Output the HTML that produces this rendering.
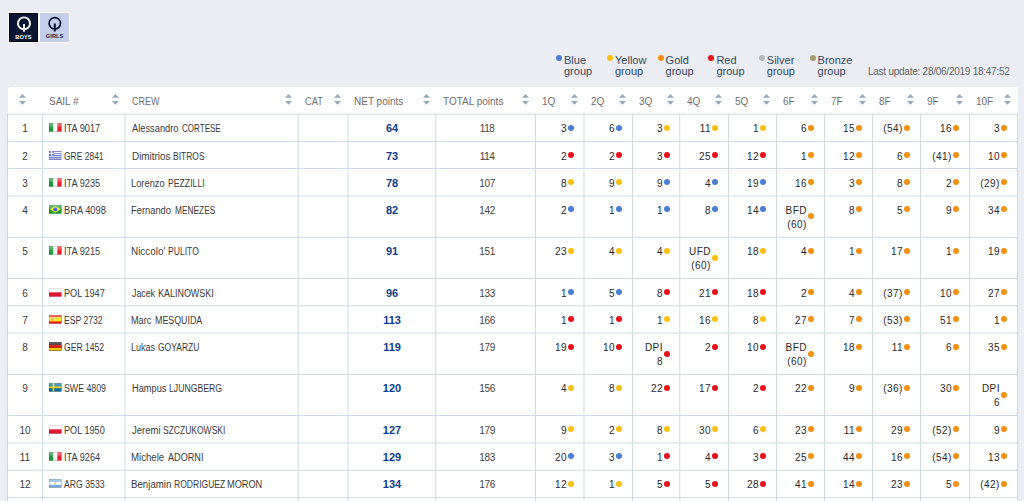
<!DOCTYPE html><html><head><meta charset="utf-8"><title>Results</title><style>
*{margin:0;padding:0;box-sizing:border-box}
html,body{width:1024px;height:501px;overflow:hidden;background:#ebedf2;font-family:"Liberation Sans",sans-serif}
.abs{position:absolute}
#logos{position:absolute;left:8px;top:11.5px;width:62px;height:31.5px;background:#fff}
.lg{position:absolute;top:1px;width:29.5px;height:30px}
.lg svg{position:absolute;left:0;top:0}
.lgt{position:absolute;left:0;width:100%;top:21.5px;text-align:center;font-weight:bold;font-size:5.6px;letter-spacing:0.1px}
.leg{position:absolute;top:54.6px;font-size:11px;line-height:11px;color:#34495e}
.leg i{position:absolute;left:-8px;top:0.2px;width:6px;height:6px;border-radius:50%}
#upd{position:absolute;left:868px;top:65.5px;font-size:10px;color:#666;white-space:nowrap;letter-spacing:-0.25px}
#tbl{position:absolute;left:8px;top:87px;width:1010px;height:420px;background:#fff;border-radius:2.5px 2.5px 0 0}
.hl{position:absolute;height:1px;background:#cfdbe4}
.vl{position:absolute;width:1px;background:#d6e0e8}
.th{position:absolute;top:95.8px;font-size:10px;color:#6e6e6e;white-space:nowrap}
.si{position:absolute;top:94px;width:7px;height:11px}
.c{position:absolute;font-size:10px;line-height:14.2px;white-space:nowrap}
.rk{color:#3a3a3a;text-align:center}
.sl{color:#3a3a3a}
.sl svg{vertical-align:-0.3px;margin-right:2.1px}
.cr{color:#3a3a3a}
.s{display:inline-block;transform-origin:0 50%}
.nt{color:#0f3c8a;font-weight:bold;font-size:11px;text-align:center}
.tt{color:#444;text-align:center;letter-spacing:-0.4px;padding-left:2.2px}
.rc{text-align:right;color:#282828;letter-spacing:0.45px;padding-right:7.1px}
.rc i{position:absolute;right:0;width:6px;height:6px;border-radius:50%}
</style></head><body>
<div id="logos">
<div class="lg" style="left:1px;top:1.3px;width:29px;height:29px;background:#0b1634;box-shadow:inset 0 0 0 0.8px #000"><svg width="29" height="29" viewBox="0 0 29 29"><circle cx="15" cy="10.4" r="6" fill="none" stroke="#fff" stroke-width="1.9"/><rect x="14.1" y="11" width="1.8" height="7.8" fill="#fff"/></svg><div class="lgt" style="color:#fff;top:21.1px">BOYS</div></div>
<div class="lg" style="left:32px;top:1px;width:29.2px;height:29.6px;background:#c3cee8"><svg width="29" height="29" viewBox="0 0 29 29"><circle cx="14.8" cy="10.3" r="5.7" fill="none" stroke="#0a1230" stroke-width="1.7"/><rect x="13.8" y="10.5" width="2" height="8" fill="#0a1230"/></svg><div class="lgt" style="color:#1a2340;top:20.4px">GIRLS</div></div>
</div>
<div class="leg" style="left:564px"><i style="background:#4a7fd4"></i>Blue<br>group</div>
<div class="leg" style="left:615px"><i style="background:#fcc010"></i>Yellow<br>group</div>
<div class="leg" style="left:665.6px"><i style="background:#f5900f"></i>Gold<br>group</div>
<div class="leg" style="left:716.4px"><i style="background:#e8101a"></i>Red<br>group</div>
<div class="leg" style="left:766.8px"><i style="background:#b8b8b8"></i>Silver<br>group</div>
<div class="leg" style="left:817.6px"><i style="background:#a99a6c"></i>Bronze<br>group</div>
<div id="upd">Last update: 28/06/2019 18:47:52</div>
<div id="tbl"></div>
<svg width="0" height="0" style="position:absolute"><defs><linearGradient id="gl" x1="0" y1="0" x2="0" y2="1"><stop offset="0" stop-color="#fff" stop-opacity="0.45"/><stop offset="0.5" stop-color="#fff" stop-opacity="0.12"/><stop offset="0.55" stop-color="#fff" stop-opacity="0"/><stop offset="1" stop-color="#000" stop-opacity="0.08"/></linearGradient></defs></svg>
<svg class="si" style="left:18.7px" width="7" height="11" viewBox="0 0 7 11"><polygon points="3.5,0 7,3.8 0,3.8" fill="#94a8bc"/><polygon points="0,7 7,7 3.5,10.8" fill="#94a8bc"/></svg>
<div class="th" style="left:49px"><span class="s" style="transform:scaleX(1)">SAIL #</span></div>
<svg class="si" style="left:111.5px" width="7" height="11" viewBox="0 0 7 11"><polygon points="3.5,0 7,3.8 0,3.8" fill="#94a8bc"/><polygon points="0,7 7,7 3.5,10.8" fill="#94a8bc"/></svg>
<div class="th" style="left:132px"><span class="s" style="transform:scaleX(0.9)">CREW</span></div>
<svg class="si" style="left:284.5px" width="7" height="11" viewBox="0 0 7 11"><polygon points="3.5,0 7,3.8 0,3.8" fill="#94a8bc"/><polygon points="0,7 7,7 3.5,10.8" fill="#94a8bc"/></svg>
<div class="th" style="left:305px"><span class="s" style="transform:scaleX(0.925)">CAT</span></div>
<svg class="si" style="left:333.5px" width="7" height="11" viewBox="0 0 7 11"><polygon points="3.5,0 7,3.8 0,3.8" fill="#94a8bc"/><polygon points="0,7 7,7 3.5,10.8" fill="#94a8bc"/></svg>
<div class="th" style="left:354px"><span class="s" style="transform:scaleX(1)">NET points</span></div>
<svg class="si" style="left:422.5px" width="7" height="11" viewBox="0 0 7 11"><polygon points="3.5,0 7,3.8 0,3.8" fill="#94a8bc"/><polygon points="0,7 7,7 3.5,10.8" fill="#94a8bc"/></svg>
<div class="th" style="left:443px"><span class="s" style="transform:scaleX(1)">TOTAL points</span></div>
<svg class="si" style="left:521.5px" width="7" height="11" viewBox="0 0 7 11"><polygon points="3.5,0 7,3.8 0,3.8" fill="#94a8bc"/><polygon points="0,7 7,7 3.5,10.8" fill="#94a8bc"/></svg>
<div class="th" style="left:542px"><span class="s" style="transform:scaleX(1)">1Q</span></div>
<svg class="si" style="left:570.5px" width="7" height="11" viewBox="0 0 7 11"><polygon points="3.5,0 7,3.8 0,3.8" fill="#94a8bc"/><polygon points="0,7 7,7 3.5,10.8" fill="#94a8bc"/></svg>
<div class="th" style="left:591px"><span class="s" style="transform:scaleX(1)">2Q</span></div>
<svg class="si" style="left:618.5px" width="7" height="11" viewBox="0 0 7 11"><polygon points="3.5,0 7,3.8 0,3.8" fill="#94a8bc"/><polygon points="0,7 7,7 3.5,10.8" fill="#94a8bc"/></svg>
<div class="th" style="left:639px"><span class="s" style="transform:scaleX(1)">3Q</span></div>
<svg class="si" style="left:666.5px" width="7" height="11" viewBox="0 0 7 11"><polygon points="3.5,0 7,3.8 0,3.8" fill="#94a8bc"/><polygon points="0,7 7,7 3.5,10.8" fill="#94a8bc"/></svg>
<div class="th" style="left:687px"><span class="s" style="transform:scaleX(1)">4Q</span></div>
<svg class="si" style="left:714.5px" width="7" height="11" viewBox="0 0 7 11"><polygon points="3.5,0 7,3.8 0,3.8" fill="#94a8bc"/><polygon points="0,7 7,7 3.5,10.8" fill="#94a8bc"/></svg>
<div class="th" style="left:735px"><span class="s" style="transform:scaleX(1)">5Q</span></div>
<svg class="si" style="left:762.5px" width="7" height="11" viewBox="0 0 7 11"><polygon points="3.5,0 7,3.8 0,3.8" fill="#94a8bc"/><polygon points="0,7 7,7 3.5,10.8" fill="#94a8bc"/></svg>
<div class="th" style="left:783px"><span class="s" style="transform:scaleX(1)">6F</span></div>
<svg class="si" style="left:810.5px" width="7" height="11" viewBox="0 0 7 11"><polygon points="3.5,0 7,3.8 0,3.8" fill="#94a8bc"/><polygon points="0,7 7,7 3.5,10.8" fill="#94a8bc"/></svg>
<div class="th" style="left:831px"><span class="s" style="transform:scaleX(1)">7F</span></div>
<svg class="si" style="left:858.5px" width="7" height="11" viewBox="0 0 7 11"><polygon points="3.5,0 7,3.8 0,3.8" fill="#94a8bc"/><polygon points="0,7 7,7 3.5,10.8" fill="#94a8bc"/></svg>
<div class="th" style="left:879px"><span class="s" style="transform:scaleX(1)">8F</span></div>
<svg class="si" style="left:906.5px" width="7" height="11" viewBox="0 0 7 11"><polygon points="3.5,0 7,3.8 0,3.8" fill="#94a8bc"/><polygon points="0,7 7,7 3.5,10.8" fill="#94a8bc"/></svg>
<div class="th" style="left:927px"><span class="s" style="transform:scaleX(1)">9F</span></div>
<svg class="si" style="left:955.5px" width="7" height="11" viewBox="0 0 7 11"><polygon points="3.5,0 7,3.8 0,3.8" fill="#94a8bc"/><polygon points="0,7 7,7 3.5,10.8" fill="#94a8bc"/></svg>
<div class="th" style="left:976px"><span class="s" style="transform:scaleX(1)">10F</span></div>
<svg class="si" style="left:1003.5px" width="7" height="11" viewBox="0 0 7 11"><polygon points="3.5,0 7,3.8 0,3.8" fill="#94a8bc"/><polygon points="0,7 7,7 3.5,10.8" fill="#94a8bc"/></svg>
<div class="hl" style="left:7px;width:1011px;top:113px;background:rgb(195,210,221);opacity:0.30"></div>
<div class="hl" style="left:7px;width:1011px;top:114px;background:rgb(195,210,221);opacity:0.50"></div>
<div class="hl" style="left:7px;width:1011px;top:141px;background:rgb(195,210,221);opacity:0.80"></div>
<div class="hl" style="left:7px;width:1011px;top:168px;background:rgb(195,210,221);opacity:0.80"></div>
<div class="hl" style="left:7px;width:1011px;top:195px;background:rgb(195,210,221);opacity:0.40"></div>
<div class="hl" style="left:7px;width:1011px;top:196px;background:rgb(195,210,221);opacity:0.40"></div>
<div class="hl" style="left:7px;width:1011px;top:236px;background:rgb(195,210,221);opacity:0.10"></div>
<div class="hl" style="left:7px;width:1011px;top:237px;background:rgb(195,210,221);opacity:0.70"></div>
<div class="hl" style="left:7px;width:1011px;top:278px;background:rgb(195,210,221);opacity:0.80"></div>
<div class="hl" style="left:7px;width:1011px;top:305px;background:rgb(195,210,221);opacity:0.50"></div>
<div class="hl" style="left:7px;width:1011px;top:306px;background:rgb(195,210,221);opacity:0.30"></div>
<div class="hl" style="left:7px;width:1011px;top:332px;background:rgb(195,210,221);opacity:0.40"></div>
<div class="hl" style="left:7px;width:1011px;top:333px;background:rgb(195,210,221);opacity:0.40"></div>
<div class="hl" style="left:7px;width:1011px;top:374px;background:rgb(195,210,221);opacity:0.80"></div>
<div class="hl" style="left:7px;width:1011px;top:415px;background:rgb(195,210,221);opacity:0.80"></div>
<div class="hl" style="left:7px;width:1011px;top:442px;background:rgb(195,210,221);opacity:0.40"></div>
<div class="hl" style="left:7px;width:1011px;top:443px;background:rgb(195,210,221);opacity:0.40"></div>
<div class="hl" style="left:7px;width:1011px;top:469px;background:rgb(195,210,221);opacity:0.20"></div>
<div class="hl" style="left:7px;width:1011px;top:470px;background:rgb(195,210,221);opacity:0.60"></div>
<div class="hl" style="left:7px;width:1011px;top:497px;background:rgb(195,210,221);opacity:0.80"></div>
<div class="vl" style="left:7px;top:114px;height:400px;background:rgb(195,210,221);opacity:0.80"></div>
<div class="vl" style="left:42px;top:114px;height:400px;background:rgb(195,210,221);opacity:0.80"></div>
<div class="vl" style="left:124px;top:114px;height:400px;background:rgb(195,210,221);opacity:0.40"></div>
<div class="vl" style="left:125px;top:114px;height:400px;background:rgb(195,210,221);opacity:0.40"></div>
<div class="vl" style="left:297px;top:114px;height:400px;background:rgb(195,210,221);opacity:0.30"></div>
<div class="vl" style="left:298px;top:114px;height:400px;background:rgb(195,210,221);opacity:0.50"></div>
<div class="vl" style="left:347px;top:114px;height:400px;background:rgb(195,210,221);opacity:0.40"></div>
<div class="vl" style="left:348px;top:114px;height:400px;background:rgb(195,210,221);opacity:0.40"></div>
<div class="vl" style="left:435px;top:114px;height:400px;background:rgb(195,210,221);opacity:0.50"></div>
<div class="vl" style="left:436px;top:114px;height:400px;background:rgb(195,210,221);opacity:0.30"></div>
<div class="vl" style="left:535px;top:114px;height:400px;background:rgb(195,210,221);opacity:0.80"></div>
<div class="vl" style="left:583px;top:114px;height:400px;background:rgb(195,210,221);opacity:0.40"></div>
<div class="vl" style="left:584px;top:114px;height:400px;background:rgb(195,210,221);opacity:0.40"></div>
<div class="vl" style="left:632px;top:114px;height:400px;background:rgb(195,210,221);opacity:0.80"></div>
<div class="vl" style="left:679px;top:114px;height:400px;background:rgb(195,210,221);opacity:0.60"></div>
<div class="vl" style="left:680px;top:114px;height:400px;background:rgb(195,210,221);opacity:0.20"></div>
<div class="vl" style="left:728px;top:114px;height:400px;background:rgb(195,210,221);opacity:0.80"></div>
<div class="vl" style="left:776px;top:114px;height:400px;background:rgb(195,210,221);opacity:0.80"></div>
<div class="vl" style="left:824px;top:114px;height:400px;background:rgb(195,210,221);opacity:0.80"></div>
<div class="vl" style="left:872px;top:114px;height:400px;background:rgb(195,210,221);opacity:0.80"></div>
<div class="vl" style="left:920px;top:114px;height:400px;background:rgb(195,210,221);opacity:0.80"></div>
<div class="vl" style="left:969px;top:114px;height:400px;background:rgb(195,210,221);opacity:0.70"></div>
<div class="vl" style="left:970px;top:114px;height:400px;background:rgb(195,210,221);opacity:0.10"></div>
<div class="vl" style="left:1017px;top:114px;height:400px;background:rgb(195,210,221);opacity:0.80"></div>
<div class="c rk" style="left:8px;width:34px;top:121.685px">1</div>
<div class="c sl" style="left:49px;top:121.685px"><svg width="12.5" height="8.6" viewBox="0 0 12 8" preserveAspectRatio="none"><rect width="12" height="8" fill="#fff"/><rect width="4" height="8" fill="#1a9a3a"/><rect x="8" width="4" height="8" fill="#ee1c25"/><rect width="12" height="8" fill="url(#gl)"/><rect x="0.25" y="0.25" width="11.5" height="7.5" fill="none" stroke="rgba(0,0,0,0.22)" stroke-width="0.5"/></svg><span class="s" style="transform:scaleX(0.92)">ITA 9017</span></div>
<div class="c cr" style="left:131.90px;top:121.685px"><span class="s" style="transform:scaleX(0.9293)">Alessandro</span></div>
<div class="c cr" style="left:181.90px;top:121.685px"><span class="s" style="transform:scaleX(0.8042)">CORTESE</span></div>
<div class="c nt" style="left:348px;width:88px;top:121.338px">64</div>
<div class="c tt" style="left:437px;width:98px;top:121.685px">118</div>
<div class="c rc" style="left:535px;width:39px;top:121.685px">3<i style="background:#4a7fd4;top:2.91px"></i></div>
<div class="c rc" style="left:584px;width:38px;top:121.685px">6<i style="background:#4a7fd4;top:2.91px"></i></div>
<div class="c rc" style="left:632px;width:38px;top:121.685px">3<i style="background:#fcc010;top:2.91px"></i></div>
<div class="c rc" style="left:680px;width:38px;top:121.685px">11<i style="background:#fcc010;top:2.91px"></i></div>
<div class="c rc" style="left:728px;width:38px;top:121.685px">1<i style="background:#fcc010;top:2.91px"></i></div>
<div class="c rc" style="left:776px;width:38px;top:121.685px">6<i style="background:#f5900f;top:2.91px"></i></div>
<div class="c rc" style="left:824px;width:38px;top:121.685px">15<i style="background:#f5900f;top:2.91px"></i></div>
<div class="c rc" style="left:872px;width:38px;top:121.685px">(54)<i style="background:#f5900f;top:2.91px"></i></div>
<div class="c rc" style="left:920px;width:39px;top:121.685px">16<i style="background:#f5900f;top:2.91px"></i></div>
<div class="c rc" style="left:969px;width:38px;top:121.685px">3<i style="background:#f5900f;top:2.91px"></i></div>
<div class="c rk" style="left:8px;width:34px;top:149.685px">2</div>
<div class="c sl" style="left:49px;top:149.685px"><svg width="12.5" height="8.6" viewBox="0 0 12 8" preserveAspectRatio="none"><rect width="12" height="8" fill="#fff"/><rect y="0" width="12" height="0.9" fill="#4d5fc8"/><rect y="1.8" width="12" height="0.9" fill="#4d5fc8"/><rect y="3.6" width="12" height="0.9" fill="#4d5fc8"/><rect y="5.4" width="12" height="0.9" fill="#4d5fc8"/><rect y="7.1" width="12" height="0.9" fill="#4d5fc8"/><rect width="5" height="4.4" fill="#4d5fc8"/><rect x="2" width="1" height="4.4" fill="#fff"/><rect y="1.8" width="5" height="0.9" fill="#fff"/><rect width="12" height="8" fill="url(#gl)"/><rect x="0.25" y="0.25" width="11.5" height="7.5" fill="none" stroke="rgba(0,0,0,0.22)" stroke-width="0.5"/></svg><span class="s" style="transform:scaleX(0.847)">GRE 2841</span></div>
<div class="c cr" style="left:131.66px;top:149.685px"><span class="s" style="transform:scaleX(0.9907)">Dimitrios</span></div>
<div class="c cr" style="left:172.86px;top:149.685px"><span class="s" style="transform:scaleX(0.8472)">BITROS</span></div>
<div class="c nt" style="left:348px;width:88px;top:149.339px">73</div>
<div class="c tt" style="left:437px;width:98px;top:149.685px">114</div>
<div class="c rc" style="left:535px;width:39px;top:149.685px">2<i style="background:#e8101a;top:2.22px"></i></div>
<div class="c rc" style="left:584px;width:38px;top:149.685px">2<i style="background:#e8101a;top:2.22px"></i></div>
<div class="c rc" style="left:632px;width:38px;top:149.685px">3<i style="background:#e8101a;top:2.22px"></i></div>
<div class="c rc" style="left:680px;width:38px;top:149.685px">25<i style="background:#e8101a;top:2.22px"></i></div>
<div class="c rc" style="left:728px;width:38px;top:149.685px">12<i style="background:#e8101a;top:2.22px"></i></div>
<div class="c rc" style="left:776px;width:38px;top:149.685px">1<i style="background:#f5900f;top:2.22px"></i></div>
<div class="c rc" style="left:824px;width:38px;top:149.685px">12<i style="background:#f5900f;top:2.22px"></i></div>
<div class="c rc" style="left:872px;width:38px;top:149.685px">6<i style="background:#f5900f;top:2.22px"></i></div>
<div class="c rc" style="left:920px;width:39px;top:149.685px">(41)<i style="background:#f5900f;top:2.22px"></i></div>
<div class="c rc" style="left:969px;width:38px;top:149.685px">10<i style="background:#f5900f;top:2.22px"></i></div>
<div class="c rk" style="left:8px;width:34px;top:176.685px">3</div>
<div class="c sl" style="left:49px;top:176.685px"><svg width="12.5" height="8.6" viewBox="0 0 12 8" preserveAspectRatio="none"><rect width="12" height="8" fill="#fff"/><rect width="4" height="8" fill="#1a9a3a"/><rect x="8" width="4" height="8" fill="#ee1c25"/><rect width="12" height="8" fill="url(#gl)"/><rect x="0.25" y="0.25" width="11.5" height="7.5" fill="none" stroke="rgba(0,0,0,0.22)" stroke-width="0.5"/></svg><span class="s" style="transform:scaleX(0.92)">ITA 9235</span></div>
<div class="c cr" style="left:131.40px;top:176.685px"><span class="s" style="transform:scaleX(0.9314)">Lorenzo</span></div>
<div class="c cr" style="left:168.45px;top:176.685px"><span class="s" style="transform:scaleX(0.8667)">PEZZILLI</span></div>
<div class="c nt" style="left:348px;width:88px;top:176.339px">78</div>
<div class="c tt" style="left:437px;width:98px;top:176.685px">107</div>
<div class="c rc" style="left:535px;width:39px;top:176.685px">8<i style="background:#fcc010;top:2.41px"></i></div>
<div class="c rc" style="left:584px;width:38px;top:176.685px">9<i style="background:#fcc010;top:2.41px"></i></div>
<div class="c rc" style="left:632px;width:38px;top:176.685px">9<i style="background:#4a7fd4;top:2.41px"></i></div>
<div class="c rc" style="left:680px;width:38px;top:176.685px">4<i style="background:#4a7fd4;top:2.41px"></i></div>
<div class="c rc" style="left:728px;width:38px;top:176.685px">19<i style="background:#4a7fd4;top:2.41px"></i></div>
<div class="c rc" style="left:776px;width:38px;top:176.685px">16<i style="background:#f5900f;top:2.41px"></i></div>
<div class="c rc" style="left:824px;width:38px;top:176.685px">3<i style="background:#f5900f;top:2.41px"></i></div>
<div class="c rc" style="left:872px;width:38px;top:176.685px">8<i style="background:#f5900f;top:2.41px"></i></div>
<div class="c rc" style="left:920px;width:39px;top:176.685px">2<i style="background:#f5900f;top:2.41px"></i></div>
<div class="c rc" style="left:969px;width:38px;top:176.685px">(29)<i style="background:#f5900f;top:2.41px"></i></div>
<div class="c rk" style="left:8px;width:34px;top:203.685px">4</div>
<div class="c sl" style="left:49px;top:203.685px"><svg width="12.5" height="8.6" viewBox="0 0 12 8" preserveAspectRatio="none"><rect width="12" height="8" fill="#1a9a2a"/><polygon points="6,0.9 11.2,4 6,7.1 0.8,4" fill="#f4f010"/><circle cx="6" cy="4" r="1.9" fill="#2a50e0"/><rect width="12" height="8" fill="url(#gl)"/><rect x="0.25" y="0.25" width="11.5" height="7.5" fill="none" stroke="rgba(0,0,0,0.22)" stroke-width="0.5"/></svg><span class="s" style="transform:scaleX(0.93)">BRA 4098</span></div>
<div class="c cr" style="left:131.40px;top:203.685px"><span class="s" style="transform:scaleX(0.9341)">Fernando</span></div>
<div class="c cr" style="left:174.87px;top:203.685px"><span class="s" style="transform:scaleX(0.8339)">MENEZES</span></div>
<div class="c nt" style="left:348px;width:88px;top:203.339px">82</div>
<div class="c tt" style="left:437px;width:98px;top:203.685px">142</div>
<div class="c rc" style="left:535px;width:39px;top:203.685px">2<i style="background:#4a7fd4;top:2.81px"></i></div>
<div class="c rc" style="left:584px;width:38px;top:203.685px">1<i style="background:#4a7fd4;top:2.81px"></i></div>
<div class="c rc" style="left:632px;width:38px;top:203.685px">1<i style="background:#4a7fd4;top:2.81px"></i></div>
<div class="c rc" style="left:680px;width:38px;top:203.685px">8<i style="background:#4a7fd4;top:2.81px"></i></div>
<div class="c rc" style="left:728px;width:38px;top:203.685px">14<i style="background:#4a7fd4;top:2.81px"></i></div>
<div class="c rc" style="left:776px;width:38px;top:203.685px">BFD<br>(60)<i style="background:#f5900f;top:9.72px"></i></div>
<div class="c rc" style="left:824px;width:38px;top:203.685px">8<i style="background:#f5900f;top:2.81px"></i></div>
<div class="c rc" style="left:872px;width:38px;top:203.685px">5<i style="background:#f5900f;top:2.81px"></i></div>
<div class="c rc" style="left:920px;width:39px;top:203.685px">9<i style="background:#f5900f;top:2.81px"></i></div>
<div class="c rc" style="left:969px;width:38px;top:203.685px">34<i style="background:#f5900f;top:2.81px"></i></div>
<div class="c rk" style="left:8px;width:34px;top:244.685px">5</div>
<div class="c sl" style="left:49px;top:244.685px"><svg width="12.5" height="8.6" viewBox="0 0 12 8" preserveAspectRatio="none"><rect width="12" height="8" fill="#fff"/><rect width="4" height="8" fill="#1a9a3a"/><rect x="8" width="4" height="8" fill="#ee1c25"/><rect width="12" height="8" fill="url(#gl)"/><rect x="0.25" y="0.25" width="11.5" height="7.5" fill="none" stroke="rgba(0,0,0,0.22)" stroke-width="0.5"/></svg><span class="s" style="transform:scaleX(0.92)">ITA 9215</span></div>
<div class="c cr" style="left:131.36px;top:244.685px"><span class="s" style="transform:scaleX(0.9881)">Niccolo'</span></div>
<div class="c cr" style="left:167.86px;top:244.685px"><span class="s" style="transform:scaleX(0.8576)">PULITO</span></div>
<div class="c nt" style="left:348px;width:88px;top:244.339px">91</div>
<div class="c tt" style="left:437px;width:98px;top:244.685px">151</div>
<div class="c rc" style="left:535px;width:39px;top:244.685px">23<i style="background:#fcc010;top:3.11px"></i></div>
<div class="c rc" style="left:584px;width:38px;top:244.685px">4<i style="background:#fcc010;top:3.11px"></i></div>
<div class="c rc" style="left:632px;width:38px;top:244.685px">4<i style="background:#fcc010;top:3.11px"></i></div>
<div class="c rc" style="left:680px;width:38px;top:244.685px">UFD<br>(60)<i style="background:#fcc010;top:10.01px"></i></div>
<div class="c rc" style="left:728px;width:38px;top:244.685px">18<i style="background:#fcc010;top:3.11px"></i></div>
<div class="c rc" style="left:776px;width:38px;top:244.685px">4<i style="background:#f5900f;top:3.11px"></i></div>
<div class="c rc" style="left:824px;width:38px;top:244.685px">1<i style="background:#f5900f;top:3.11px"></i></div>
<div class="c rc" style="left:872px;width:38px;top:244.685px">17<i style="background:#f5900f;top:3.11px"></i></div>
<div class="c rc" style="left:920px;width:39px;top:244.685px">1<i style="background:#f5900f;top:3.11px"></i></div>
<div class="c rc" style="left:969px;width:38px;top:244.685px">19<i style="background:#f5900f;top:3.11px"></i></div>
<div class="c rk" style="left:8px;width:34px;top:286.685px">6</div>
<div class="c sl" style="left:49px;top:286.685px"><svg width="12.5" height="8.6" viewBox="0 0 12 8" preserveAspectRatio="none"><rect width="12" height="8" fill="#fff"/><rect y="4" width="12" height="4" fill="#e3142c"/><rect width="12" height="8" fill="url(#gl)"/><rect x="0.25" y="0.25" width="11.5" height="7.5" fill="none" stroke="rgba(0,0,0,0.22)" stroke-width="0.5"/></svg><span class="s" style="transform:scaleX(0.913)">POL 1947</span></div>
<div class="c cr" style="left:131.88px;top:286.685px"><span class="s" style="transform:scaleX(0.8816)">Jacek</span></div>
<div class="c cr" style="left:158.23px;top:286.685px"><span class="s" style="transform:scaleX(0.8959)">KALINOWSKI</span></div>
<div class="c nt" style="left:348px;width:88px;top:286.339px">96</div>
<div class="c tt" style="left:437px;width:98px;top:286.685px">133</div>
<div class="c rc" style="left:535px;width:39px;top:286.685px">1<i style="background:#4a7fd4;top:2.31px"></i></div>
<div class="c rc" style="left:584px;width:38px;top:286.685px">5<i style="background:#4a7fd4;top:2.31px"></i></div>
<div class="c rc" style="left:632px;width:38px;top:286.685px">8<i style="background:#e8101a;top:2.31px"></i></div>
<div class="c rc" style="left:680px;width:38px;top:286.685px">21<i style="background:#e8101a;top:2.31px"></i></div>
<div class="c rc" style="left:728px;width:38px;top:286.685px">18<i style="background:#e8101a;top:2.31px"></i></div>
<div class="c rc" style="left:776px;width:38px;top:286.685px">2<i style="background:#f5900f;top:2.31px"></i></div>
<div class="c rc" style="left:824px;width:38px;top:286.685px">4<i style="background:#f5900f;top:2.31px"></i></div>
<div class="c rc" style="left:872px;width:38px;top:286.685px">(37)<i style="background:#f5900f;top:2.31px"></i></div>
<div class="c rc" style="left:920px;width:39px;top:286.685px">10<i style="background:#f5900f;top:2.31px"></i></div>
<div class="c rc" style="left:969px;width:38px;top:286.685px">27<i style="background:#f5900f;top:2.31px"></i></div>
<div class="c rk" style="left:8px;width:34px;top:313.685px">7</div>
<div class="c sl" style="left:49px;top:313.685px"><svg width="12.5" height="8.6" viewBox="0 0 12 8" preserveAspectRatio="none"><rect width="12" height="8" fill="#ee1111"/><rect y="2" width="12" height="4" fill="#f8e81c"/><rect x="2.3" y="2.8" width="1.8" height="2.4" fill="#e89090"/><rect width="12" height="8" fill="url(#gl)"/><rect x="0.25" y="0.25" width="11.5" height="7.5" fill="none" stroke="rgba(0,0,0,0.22)" stroke-width="0.5"/></svg><span class="s" style="transform:scaleX(0.86)">ESP 2732</span></div>
<div class="c cr" style="left:131.42px;top:313.685px"><span class="s" style="transform:scaleX(0.9129)">Marc</span></div>
<div class="c cr" style="left:154.84px;top:313.685px"><span class="s" style="transform:scaleX(0.8857)">MESQUIDA</span></div>
<div class="c nt" style="left:348px;width:88px;top:313.339px">113</div>
<div class="c tt" style="left:437px;width:98px;top:313.685px">166</div>
<div class="c rc" style="left:535px;width:39px;top:313.685px">1<i style="background:#e8101a;top:2.52px"></i></div>
<div class="c rc" style="left:584px;width:38px;top:313.685px">1<i style="background:#e8101a;top:2.52px"></i></div>
<div class="c rc" style="left:632px;width:38px;top:313.685px">1<i style="background:#fcc010;top:2.52px"></i></div>
<div class="c rc" style="left:680px;width:38px;top:313.685px">16<i style="background:#fcc010;top:2.52px"></i></div>
<div class="c rc" style="left:728px;width:38px;top:313.685px">8<i style="background:#fcc010;top:2.52px"></i></div>
<div class="c rc" style="left:776px;width:38px;top:313.685px">27<i style="background:#f5900f;top:2.52px"></i></div>
<div class="c rc" style="left:824px;width:38px;top:313.685px">7<i style="background:#f5900f;top:2.52px"></i></div>
<div class="c rc" style="left:872px;width:38px;top:313.685px">(53)<i style="background:#f5900f;top:2.52px"></i></div>
<div class="c rc" style="left:920px;width:39px;top:313.685px">51<i style="background:#f5900f;top:2.52px"></i></div>
<div class="c rc" style="left:969px;width:38px;top:313.685px">1<i style="background:#f5900f;top:2.52px"></i></div>
<div class="c rk" style="left:8px;width:34px;top:340.685px">8</div>
<div class="c sl" style="left:49px;top:340.685px"><svg width="12.5" height="8.6" viewBox="0 0 12 8" preserveAspectRatio="none"><rect width="12" height="8" fill="#000"/><rect y="2.67" width="12" height="2.67" fill="#dd0000"/><rect y="5.33" width="12" height="2.67" fill="#ffce00"/><rect width="12" height="8" fill="url(#gl)"/><rect x="0.25" y="0.25" width="11.5" height="7.5" fill="none" stroke="rgba(0,0,0,0.22)" stroke-width="0.5"/></svg><span class="s" style="transform:scaleX(0.86)">GER 1452</span></div>
<div class="c cr" style="left:131.43px;top:340.685px"><span class="s" style="transform:scaleX(0.8941)">Lukas</span></div>
<div class="c cr" style="left:158.47px;top:340.685px"><span class="s" style="transform:scaleX(0.8505)">GOYARZU</span></div>
<div class="c nt" style="left:348px;width:88px;top:340.339px">119</div>
<div class="c tt" style="left:437px;width:98px;top:340.685px">179</div>
<div class="c rc" style="left:535px;width:39px;top:340.685px">19<i style="background:#e8101a;top:3.02px"></i></div>
<div class="c rc" style="left:584px;width:38px;top:340.685px">10<i style="background:#e8101a;top:3.02px"></i></div>
<div class="c rc" style="left:632px;width:38px;top:340.685px">DPI<br>8<i style="background:#e8101a;top:9.92px"></i></div>
<div class="c rc" style="left:680px;width:38px;top:340.685px">2<i style="background:#e8101a;top:3.02px"></i></div>
<div class="c rc" style="left:728px;width:38px;top:340.685px">10<i style="background:#e8101a;top:3.02px"></i></div>
<div class="c rc" style="left:776px;width:38px;top:340.685px">BFD<br>(60)<i style="background:#f5900f;top:9.92px"></i></div>
<div class="c rc" style="left:824px;width:38px;top:340.685px">18<i style="background:#f5900f;top:3.02px"></i></div>
<div class="c rc" style="left:872px;width:38px;top:340.685px">11<i style="background:#f5900f;top:3.02px"></i></div>
<div class="c rc" style="left:920px;width:39px;top:340.685px">6<i style="background:#f5900f;top:3.02px"></i></div>
<div class="c rc" style="left:969px;width:38px;top:340.685px">35<i style="background:#f5900f;top:3.02px"></i></div>
<div class="c rk" style="left:8px;width:34px;top:381.685px">9</div>
<div class="c sl" style="left:49px;top:381.685px"><svg width="12.5" height="8.6" viewBox="0 0 12 8" preserveAspectRatio="none"><rect width="12" height="8" fill="#006aa7"/><rect x="3.5" width="1.6" height="8" fill="#fecc00"/><rect y="3.2" width="12" height="1.6" fill="#fecc00"/><rect width="12" height="8" fill="url(#gl)"/><rect x="0.25" y="0.25" width="11.5" height="7.5" fill="none" stroke="rgba(0,0,0,0.22)" stroke-width="0.5"/></svg><span class="s" style="transform:scaleX(0.878)">SWE 4809</span></div>
<div class="c cr" style="left:131.51px;top:381.685px"><span class="s" style="transform:scaleX(0.9241)">Hampus</span></div>
<div class="c cr" style="left:168.65px;top:381.685px"><span class="s" style="transform:scaleX(0.8686)">LJUNGBERG</span></div>
<div class="c nt" style="left:348px;width:88px;top:381.339px">120</div>
<div class="c tt" style="left:437px;width:98px;top:381.685px">156</div>
<div class="c rc" style="left:535px;width:39px;top:381.685px">4<i style="background:#fcc010;top:3.02px"></i></div>
<div class="c rc" style="left:584px;width:38px;top:381.685px">8<i style="background:#fcc010;top:3.02px"></i></div>
<div class="c rc" style="left:632px;width:38px;top:381.685px">22<i style="background:#e8101a;top:3.02px"></i></div>
<div class="c rc" style="left:680px;width:38px;top:381.685px">17<i style="background:#e8101a;top:3.02px"></i></div>
<div class="c rc" style="left:728px;width:38px;top:381.685px">2<i style="background:#e8101a;top:3.02px"></i></div>
<div class="c rc" style="left:776px;width:38px;top:381.685px">22<i style="background:#f5900f;top:3.02px"></i></div>
<div class="c rc" style="left:824px;width:38px;top:381.685px">9<i style="background:#f5900f;top:3.02px"></i></div>
<div class="c rc" style="left:872px;width:38px;top:381.685px">(36)<i style="background:#f5900f;top:3.02px"></i></div>
<div class="c rc" style="left:920px;width:39px;top:381.685px">30<i style="background:#f5900f;top:3.02px"></i></div>
<div class="c rc" style="left:969px;width:38px;top:381.685px">DPI<br>6<i style="background:#f5900f;top:9.92px"></i></div>
<div class="c rk" style="left:8px;width:34px;top:423.685px">10</div>
<div class="c sl" style="left:49px;top:423.685px"><svg width="12.5" height="8.6" viewBox="0 0 12 8" preserveAspectRatio="none"><rect width="12" height="8" fill="#fff"/><rect y="4" width="12" height="4" fill="#e3142c"/><rect width="12" height="8" fill="url(#gl)"/><rect x="0.25" y="0.25" width="11.5" height="7.5" fill="none" stroke="rgba(0,0,0,0.22)" stroke-width="0.5"/></svg><span class="s" style="transform:scaleX(0.913)">POL 1950</span></div>
<div class="c cr" style="left:131.96px;top:423.685px"><span class="s" style="transform:scaleX(0.9573)">Jeremi</span></div>
<div class="c cr" style="left:163.17px;top:423.685px"><span class="s" style="transform:scaleX(0.8500)">SZCZUKOWSKI</span></div>
<div class="c nt" style="left:348px;width:88px;top:423.339px">127</div>
<div class="c tt" style="left:437px;width:98px;top:423.685px">179</div>
<div class="c rc" style="left:535px;width:39px;top:423.685px">9<i style="background:#fcc010;top:2.52px"></i></div>
<div class="c rc" style="left:584px;width:38px;top:423.685px">2<i style="background:#fcc010;top:2.52px"></i></div>
<div class="c rc" style="left:632px;width:38px;top:423.685px">8<i style="background:#fcc010;top:2.52px"></i></div>
<div class="c rc" style="left:680px;width:38px;top:423.685px">30<i style="background:#fcc010;top:2.52px"></i></div>
<div class="c rc" style="left:728px;width:38px;top:423.685px">6<i style="background:#fcc010;top:2.52px"></i></div>
<div class="c rc" style="left:776px;width:38px;top:423.685px">23<i style="background:#f5900f;top:2.52px"></i></div>
<div class="c rc" style="left:824px;width:38px;top:423.685px">11<i style="background:#f5900f;top:2.52px"></i></div>
<div class="c rc" style="left:872px;width:38px;top:423.685px">29<i style="background:#f5900f;top:2.52px"></i></div>
<div class="c rc" style="left:920px;width:39px;top:423.685px">(52)<i style="background:#f5900f;top:2.52px"></i></div>
<div class="c rc" style="left:969px;width:38px;top:423.685px">9<i style="background:#f5900f;top:2.52px"></i></div>
<div class="c rk" style="left:8px;width:34px;top:450.685px">11</div>
<div class="c sl" style="left:49px;top:450.685px"><svg width="12.5" height="8.6" viewBox="0 0 12 8" preserveAspectRatio="none"><rect width="12" height="8" fill="#fff"/><rect width="4" height="8" fill="#1a9a3a"/><rect x="8" width="4" height="8" fill="#ee1c25"/><rect width="12" height="8" fill="url(#gl)"/><rect x="0.25" y="0.25" width="11.5" height="7.5" fill="none" stroke="rgba(0,0,0,0.22)" stroke-width="0.5"/></svg><span class="s" style="transform:scaleX(0.92)">ITA 9264</span></div>
<div class="c cr" style="left:131.08px;top:450.685px"><span class="s" style="transform:scaleX(0.9624)">Michele</span></div>
<div class="c cr" style="left:167.60px;top:450.685px"><span class="s" style="transform:scaleX(0.9105)">ADORNI</span></div>
<div class="c nt" style="left:348px;width:88px;top:450.339px">129</div>
<div class="c tt" style="left:437px;width:98px;top:450.685px">183</div>
<div class="c rc" style="left:535px;width:39px;top:450.685px">20<i style="background:#4a7fd4;top:2.52px"></i></div>
<div class="c rc" style="left:584px;width:38px;top:450.685px">3<i style="background:#4a7fd4;top:2.52px"></i></div>
<div class="c rc" style="left:632px;width:38px;top:450.685px">1<i style="background:#e8101a;top:2.52px"></i></div>
<div class="c rc" style="left:680px;width:38px;top:450.685px">4<i style="background:#e8101a;top:2.52px"></i></div>
<div class="c rc" style="left:728px;width:38px;top:450.685px">3<i style="background:#e8101a;top:2.52px"></i></div>
<div class="c rc" style="left:776px;width:38px;top:450.685px">25<i style="background:#f5900f;top:2.52px"></i></div>
<div class="c rc" style="left:824px;width:38px;top:450.685px">44<i style="background:#f5900f;top:2.52px"></i></div>
<div class="c rc" style="left:872px;width:38px;top:450.685px">16<i style="background:#f5900f;top:2.52px"></i></div>
<div class="c rc" style="left:920px;width:39px;top:450.685px">(54)<i style="background:#f5900f;top:2.52px"></i></div>
<div class="c rc" style="left:969px;width:38px;top:450.685px">13<i style="background:#f5900f;top:2.52px"></i></div>
<div class="c rk" style="left:8px;width:34px;top:477.685px">12</div>
<div class="c sl" style="left:49px;top:477.685px"><svg width="12.5" height="8.6" viewBox="0 0 12 8" preserveAspectRatio="none"><rect width="12" height="8" fill="#74acdf"/><rect y="2.67" width="12" height="2.67" fill="#fff"/><circle cx="6" cy="4" r="0.9" fill="#f6b40e"/><rect width="12" height="8" fill="url(#gl)"/><rect x="0.25" y="0.25" width="11.5" height="7.5" fill="none" stroke="rgba(0,0,0,0.22)" stroke-width="0.5"/></svg><span class="s" style="transform:scaleX(0.869)">ARG 3533</span></div>
<div class="c cr" style="left:131.37px;top:477.685px"><span class="s" style="transform:scaleX(0.9689)">Benjamin</span></div>
<div class="c cr" style="left:173.76px;top:477.685px"><span class="s" style="transform:scaleX(0.8542)">RODRIGUEZ</span></div>
<div class="c cr" style="left:227.31px;top:477.685px"><span class="s" style="transform:scaleX(0.9197)">MORON</span></div>
<div class="c nt" style="left:348px;width:88px;top:477.339px">134</div>
<div class="c tt" style="left:437px;width:98px;top:477.685px">176</div>
<div class="c rc" style="left:535px;width:39px;top:477.685px">12<i style="background:#fcc010;top:3.12px"></i></div>
<div class="c rc" style="left:584px;width:38px;top:477.685px">1<i style="background:#fcc010;top:3.12px"></i></div>
<div class="c rc" style="left:632px;width:38px;top:477.685px">5<i style="background:#e8101a;top:3.12px"></i></div>
<div class="c rc" style="left:680px;width:38px;top:477.685px">5<i style="background:#e8101a;top:3.12px"></i></div>
<div class="c rc" style="left:728px;width:38px;top:477.685px">28<i style="background:#e8101a;top:3.12px"></i></div>
<div class="c rc" style="left:776px;width:38px;top:477.685px">41<i style="background:#f5900f;top:3.12px"></i></div>
<div class="c rc" style="left:824px;width:38px;top:477.685px">14<i style="background:#f5900f;top:3.12px"></i></div>
<div class="c rc" style="left:872px;width:38px;top:477.685px">23<i style="background:#f5900f;top:3.12px"></i></div>
<div class="c rc" style="left:920px;width:39px;top:477.685px">5<i style="background:#f5900f;top:3.12px"></i></div>
<div class="c rc" style="left:969px;width:38px;top:477.685px">(42)<i style="background:#f5900f;top:3.12px"></i></div>
</body></html>
